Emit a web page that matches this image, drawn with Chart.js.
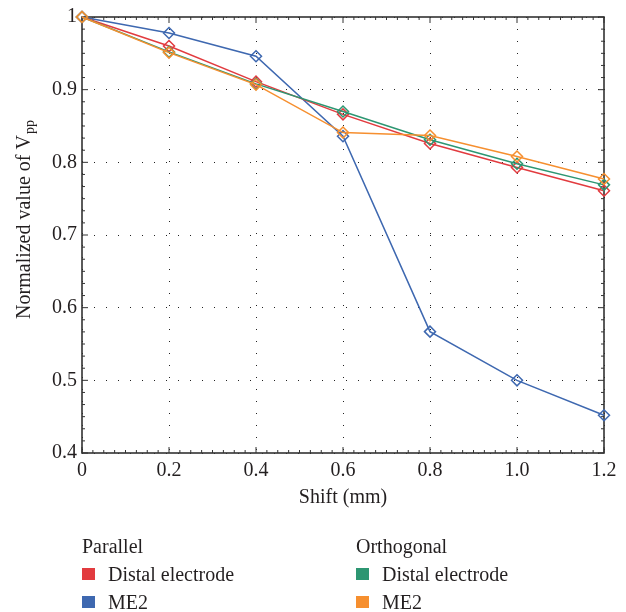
<!DOCTYPE html>
<html lang="en">
<head>
  <meta charset="UTF-8">
  <title>Normalized Vpp vs shift</title>
  <style>
    body { margin: 0; padding: 0; background: #fff; font-family: "Liberation Serif", "DejaVu Serif", serif; }
    #wrap { position: relative; width: 626px; height: 612px; }
    canvas { position: absolute; left: 0; top: 0; }
    .legend { position: absolute; top: 532px; font-size: 20px; color: #231f20; line-height: 28px; }
    .legend .row { display: flex; align-items: center; }
    .legend .sw { width: 13px; height: 12px; margin-right: 13px; }
  </style>
  <script src="https://cdn.jsdelivr.net/npm/chart.js"></script>
</head>
<body>
  <div id="wrap">
    <canvas id="chartCanvas" width="626" height="612"></canvas>
    <div class="legend" style="left:82px">
      <div>Parallel</div>
      <div class="row"><span class="sw" id="sw0"></span>Distal electrode</div>
      <div class="row"><span class="sw" id="sw1"></span>ME2</div>
    </div>
    <div class="legend" style="left:356px">
      <div>Orthogonal</div>
      <div class="row"><span class="sw" id="sw2"></span>Distal electrode</div>
      <div class="row"><span class="sw" id="sw3"></span>ME2</div>
    </div>
  </div>

  <script>
    // shift values (mm)
    const shifts = [0, 0.2, 0.4, 0.6, 0.8, 1.0, 1.2];
    // normalized Vpp
    const parallelDistal   = [1, 0.960, 0.911, 0.866, 0.826, 0.793, 0.761];
    const parallelME2      = [1, 0.978, 0.946, 0.836, 0.567, 0.500, 0.452];
    const orthogonalDistal = [1, 0.952, 0.908, 0.870, 0.831, 0.798, 0.769];
    const orthogonalME2    = [1, 0.951, 0.907, 0.841, 0.837, 0.808, 0.777];

    const xTickLabels = ['0', '0.2', '0.4', '0.6', '0.8', '1.0', '1.2'];
    const yTickLabels = ['0.4', '0.5', '0.6', '0.7', '0.8', '0.9', '1'];

    const colors = ['#e23b3f', '#3e68b0', '#2d9672', '#f68f2f'];
    ['sw0','sw1','sw2','sw3'].forEach((id, i) => document.getElementById(id).style.background = colors[i]);

    const FONT = '"Liberation Serif", "DejaVu Serif", serif';
    const TEXT = '#231f20';

    function series(label, ys, color, order) {
      return {
        label,
        data: shifts.map((x, i) => ({ x, y: ys[i] })),
        borderColor: color,
        backgroundColor: 'rgba(255,255,255,0)',
        borderWidth: 1.5,
        pointStyle: 'rectRot',
        pointRadius: 5.5,
        pointBorderWidth: 1.5,
        pointBorderColor: color,
        tension: 0,
        clip: false,
        order
      };
    }

    // frame, inward ticks and axis titles
    const decor = {
      id: 'decor',
      beforeDatasetsDraw(chart) {
        const { ctx, chartArea: a, scales: { x, y } } = chart;
        ctx.save();
        ctx.strokeStyle = '#333';
        ctx.lineWidth = 1.6;
        ctx.strokeRect(a.left, a.top, a.right - a.left, a.bottom - a.top);

        ctx.lineWidth = 1;
        ctx.beginPath();
        for (let k = 0; k <= 48; k++) {
          const px = x.getPixelForValue(k * 0.025);
          const len = k % 8 === 0 ? 6 : 3;
          ctx.moveTo(px, a.bottom); ctx.lineTo(px, a.bottom - len);
          ctx.moveTo(px, a.top); ctx.lineTo(px, a.top + len);
        }
        for (let k = 0; k <= 36; k++) {
          const py = y.getPixelForValue(0.4 + k / 60);
          const len = k % 6 === 0 ? 6 : 3;
          ctx.moveTo(a.left, py); ctx.lineTo(a.left + len, py);
          ctx.moveTo(a.right, py); ctx.lineTo(a.right - len, py);
        }
        ctx.stroke();
        ctx.restore();
      },
      afterDraw(chart) {
        const { ctx, chartArea: a } = chart;
        ctx.save();
        ctx.fillStyle = TEXT;
        ctx.font = '20px ' + FONT;
        ctx.textAlign = 'center';
        ctx.textBaseline = 'middle';
        ctx.fillText('Shift (mm)', (a.left + a.right) / 2, 498);

        // y title with subscript
        ctx.translate(25, 220);
        ctx.rotate(-Math.PI / 2);
        const main = 'Normalized value of V';
        const sub = 'pp';
        ctx.font = '20px ' + FONT;
        const wMain = ctx.measureText(main).width;
        ctx.font = '14px ' + FONT;
        const wSub = ctx.measureText(sub).width;
        const start = -(wMain + wSub) / 2;
        ctx.textAlign = 'left';
        ctx.font = '20px ' + FONT;
        ctx.fillText(main, start, 0);
        ctx.font = '14px ' + FONT;
        ctx.fillText(sub, start + wMain + 1, 5);
        ctx.restore();
      }
    };

    const ctx = document.getElementById('chartCanvas').getContext('2d');
    new Chart(ctx, {
      type: 'line',
      data: {
        datasets: [
          series('Parallel Distal electrode', parallelDistal, colors[0], 2),
          series('Parallel ME2', parallelME2, colors[1], 3),
          series('Orthogonal Distal electrode', orthogonalDistal, colors[2], 1),
          series('Orthogonal ME2', orthogonalME2, colors[3], 0)
        ]
      },
      options: {
        responsive: false,
        animation: false,
        layout: { padding: { top: 15, right: 22, left: 0, bottom: 0 } },
        plugins: { legend: { display: false }, tooltip: { enabled: false } },
        scales: {
          x: {
            type: 'linear',
            min: 0, max: 1.2,
            afterFit: s => { s.height = 612 - 15 - 438; },
            afterBuildTicks: s => { s.ticks = shifts.map(v => ({ value: v })); },
            ticks: {
              autoSkip: false, maxRotation: 0, padding: 6,
              color: TEXT, font: { family: FONT, size: 20 },
              callback: (v, i) => xTickLabels[i]
            },
            grid: { color: '#222', lineWidth: 1, drawTicks: false, tickLength: 0 },
            border: { display: false, dash: [1, 11] }
          },
          y: {
            min: 0.4, max: 1,
            afterFit: s => { s.width = 82; },
            afterBuildTicks: s => { s.ticks = yTickLabels.map(t => ({ value: parseFloat(t) })); },
            ticks: {
              autoSkip: false, padding: 5,
              color: TEXT, font: { family: FONT, size: 20 },
              callback: (v, i) => yTickLabels[i]
            },
            grid: { color: '#222', lineWidth: 1, drawTicks: false, tickLength: 0 },
            border: { display: false, dash: [1, 11] }
          }
        }
      },
      plugins: [decor]
    });
  </script>
</body>
</html>
